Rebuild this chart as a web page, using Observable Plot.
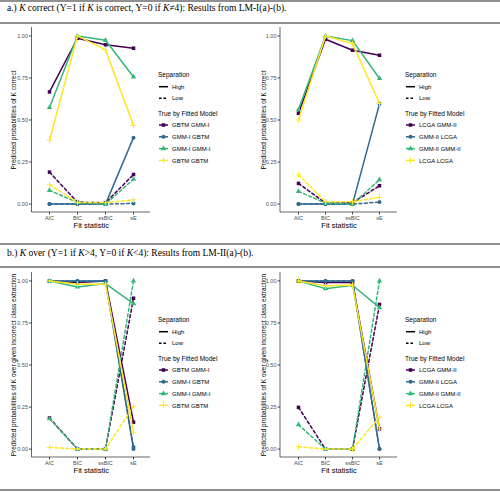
<!DOCTYPE html>
<html><head><meta charset="utf-8">
<script src="https://cdn.jsdelivr.net/npm/d3@7"></script>
<script src="https://cdn.jsdelivr.net/npm/@observablehq/plot@0.6"></script>
<style>
body{margin:0;background:#fff;}
#page{position:relative;width:500px;height:492px;overflow:hidden;background:#fff;font-family:"Liberation Sans",Arial,sans-serif;}
.hr{position:absolute;left:0;width:500px;height:2px;background:#909090;}
.hdr{position:absolute;left:7px;font-family:"Liberation Serif","Times New Roman",serif;font-size:9.5px;line-height:11px;color:#000;white-space:nowrap;}
.panel{position:absolute;}
</style></head><body><div id="page"></div>
<script>
const stats = ["AIC", "BIC", "ssBIC", "sE"];
const modelsI = ["GBTM GMM-I", "GMM-I GBTM", "GMM-I GMM-I", "GBTM GBTM"];
const modelsII = ["LCGA GMM-II", "GMM-II LCGA", "GMM-II GMM-II", "LCGA LCGA"];
const colors = ["#440154", "#31688E", "#35B779", "#FDE725"];
const symbols = ["square", "circle", "triangle", "plus"];
const yTicks = [0, 0.25, 0.5, 0.75, 1];

// a.) K correct — LM-I (left) and LM-II (right); rows follow model order, columns follow stats
const aLeftHigh = [[0.667, 0.986, 0.947, 0.927], [0, 0, 0, 0.395], [0.574, 1.0, 0.974, 0.756], [0.38, 1.0, 0.917, 0.468]];
const aLeftLow  = [[0.19, 0.011, 0.008, 0.176], [0, 0, 0, 0.004], [0.081, 0.01, 0.0, 0.148], [0.115, 0.01, 0.01, 0.025]];
const aRightHigh = [[0.54, 0.98, 0.915, 0.885], [0, 0, 0, 0.596], [0.562, 1.0, 0.972, 0.747], [0.50, 1.0, 0.954, 0.598]];
const aRightLow  = [[0.123, 0.006, 0.008, 0.109], [0, 0, 0, 0.012], [0.075, 0.006, 0.0, 0.145], [0.174, 0.014, 0.014, 0.04]];
// b.) K over — LM-II
const bLeftHigh = [[1.0, 0.99, 1.0, 0.16], [1.0, 1.0, 1.0, 0.0], [1.0, 0.964, 0.984, 0.865], [1.0, 0.98, 0.98, 0.1]];
const bLeftLow  = [[0.185, 0, 0, 0.897], [1.0, 1.0, 1.0, 0.012], [0.18, 0, 0, 1.0], [0.01, 0, 0, 0.255]];
const bRightHigh = [[1.0, 0.99, 0.99, 0.12], [1.0, 1.0, 1.0, 0.0], [1.0, 0.954, 0.974, 0.841], [1.0, 0.97, 0.975, 0.12]];
const bRightLow  = [[0.248, 0, 0, 0.86], [1.0, 1.0, 1.0, 0.0], [0.145, 0, 0, 1.0], [0.014, 0, 0, 0.19]];

const headerA = 'a.) <i>K</i> correct (Y=1 if <i>K</i> is correct, Y=0 if <i>K</i>≠4): Results from LM-I(a)-(b).';
const headerB = 'b.) <i>K</i> over (Y=1 if <i>K</i>&gt;4, Y=0 if <i>K</i>&lt;4): Results from LM-II(a)-(b).';
const yLabelA = "Predicted probabilities of K correct";
const yLabelB = "Predicted probabilities of K over given incorrect class extraction";
const xLabel = "Fit statistic";

const page = document.getElementById("page");
const FONT = "Liberation Sans, Arial, sans-serif";

function addDiv(cls, style, html) {
  const d = document.createElement("div");
  d.className = cls;
  Object.assign(d.style, style);
  if (html) d.innerHTML = html;
  page.appendChild(d);
  return d;
}

[0, 22, 242.5, 266, 489].forEach(y => addDiv("hr", {top: y + "px"}));
addDiv("hdr", {top: "3px"}, headerA);
addDiv("hdr", {top: "247.5px"}, headerB);

function panel(models, high, low, ylabel, left, top, ml, mr, lx) {
  const W = 250, H = 218, mt = 3, mb = 30;
  const rows = [];
  models.forEach((m, i) => stats.forEach((s, j) => {
    rows.push({model: m, sep: "High", stat: s, value: high[i][j]});
    rows.push({model: m, sep: "Low", stat: s, value: low[i][j]});
  }));
  const marks = [];
  models.forEach((m, i) => {
    const hi = rows.filter(d => d.model === m && d.sep === "High");
    const lo = rows.filter(d => d.model === m && d.sep === "Low");
    marks.push(Plot.line(hi, {x: "stat", y: "value", stroke: "model", strokeWidth: 1.5}));
    marks.push(Plot.line(lo, {x: "stat", y: "value", stroke: "model", strokeWidth: 1.5, strokeDasharray: "3,2.5"}));
    const both = hi.concat(lo);
    if (symbols[i] === "plus") {
      marks.push(Plot.dot(both, {x: "stat", y: "value", stroke: "model", symbol: "model", r: 2, strokeWidth: 1}));
    } else {
      marks.push(Plot.dot(both, {x: "stat", y: "value", fill: "model", symbol: "model", r: 2, stroke: "none"}));
    }
  });
  const svg = Plot.plot({
    width: W, height: H, marginLeft: ml, marginRight: mr, marginTop: mt, marginBottom: mb,
    style: {fontFamily: FONT, background: "transparent", overflow: "visible"},
    x: {type: "point", domain: stats, padding: 0.6},
    y: {domain: [-0.05, 1.05]},
    color: {domain: models, range: colors},
    symbol: {domain: models, range: symbols},
    marks: [
      Plot.axisX({tickSize: 2.5, tickPadding: 1.5, fontSize: 5.5, label: null, color: "#4D4D4D"}),
      Plot.axisY({ticks: yTicks, tickFormat: ".2f", tickSize: 2.5, tickPadding: 1.5, fontSize: 5.5, label: null, color: "#4D4D4D"}),
      Plot.text([xLabel], {frameAnchor: "bottom", dy: 13, fontSize: 7.5, fill: "#000", textAnchor: "middle", lineAnchor: "middle"}),
      Plot.text([ylabel], {frameAnchor: "left", rotate: -90, dx: 13 - ml, fontSize: 6.5, fill: "#000", textAnchor: "middle", lineAnchor: "middle"}),
      ...marks
    ]
  });
  const g = d3.select(svg).append("g").attr("font-family", FONT).attr("text-anchor", "start");
  g.append("line").attr("x1", ml).attr("x2", ml).attr("y1", mt).attr("y2", H - mb).attr("stroke", "#000").attr("stroke-width", 0.6);
  g.append("line").attr("x1", ml).attr("x2", W - mr).attr("y1", H - mb).attr("y2", H - mb).attr("stroke", "#000").attr("stroke-width", 0.6);
  // legend
  const txt = (x, y, t, fs) => g.append("text").attr("x", x).attr("y", y).attr("dy", "0.35em")
    .attr("text-anchor", "start").attr("font-size", fs).attr("fill", "#000").text(t);
  txt(lx, 51, "Separation", 6.5);
  [["High", null, 62.7], ["Low", "2.5,2", 74.3]].forEach(([t, d, y]) => {
    g.append("line").attr("x1", lx + 1).attr("x2", lx + 10).attr("y1", y).attr("y2", y)
      .attr("stroke", "#000").attr("stroke-width", 1.5).attr("stroke-dasharray", d);
    txt(lx + 14, y, t, 6);
  });
  txt(lx, 89.3, "True by Fitted Model", 6.5);
  const symMap = {square: d3.symbolSquare, circle: d3.symbolCircle, triangle: d3.symbolTriangle, plus: d3.symbolPlus};
  models.forEach((m, i) => {
    const y = 101 + i * 11.8;
    g.append("line").attr("x1", lx + 1).attr("x2", lx + 10).attr("y1", y).attr("y2", y)
      .attr("stroke", colors[i]).attr("stroke-width", 1.5);
    const p = g.append("path").attr("transform", `translate(${lx + 5.5},${y})`)
      .attr("d", d3.symbol().type(symMap[symbols[i]]).size(Math.PI * 4)());
    if (symbols[i] === "plus") p.attr("fill", "none").attr("stroke", colors[i]);
    else p.attr("fill", colors[i]);
    txt(lx + 14, y, m, 6);
  });
  const wrap = addDiv("panel", {left: left + "px", top: top + "px", width: W + "px", height: H + "px"});
  wrap.appendChild(svg);
}

panel(modelsI, aLeftHigh, aLeftLow, yLabelA, 0, 24, 31.5, 100, 158);
panel(modelsII, aRightHigh, aRightLow, yLabelA, 250, 24, 30, 103, 155);
panel(modelsI, bLeftHigh, bLeftLow, yLabelB, 0, 269, 31.5, 100, 158);
panel(modelsII, bRightHigh, bRightLow, yLabelB, 250, 269, 30, 103, 155);
</script></body></html>
